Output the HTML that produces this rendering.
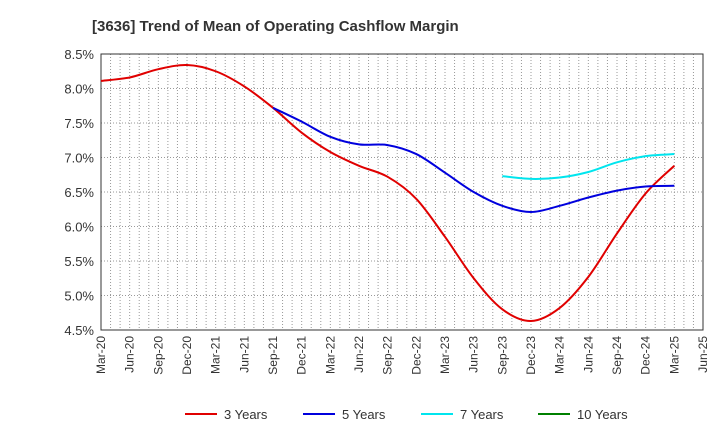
<!DOCTYPE html>
<html><head><meta charset="utf-8"><style>
body{margin:0;background:#fff;font-family:"Liberation Sans",Arial,sans-serif}
svg text{font-family:"Liberation Sans",Arial,sans-serif;fill:#333}
</style></head><body>
<svg id="c" width="720" height="440">
<text x="92" y="31" font-size="15" font-weight="bold" style="fill:#333">[3636]  Trend of Mean of Operating Cashflow Margin</text>
<g id="grid"></g><g id="axes"></g><g id="series"></g><g id="legend"></g>
</svg>
<script>
const xLabels=["Mar-20","Jun-20","Sep-20","Dec-20","Mar-21","Jun-21","Sep-21","Dec-21","Mar-22","Jun-22","Sep-22","Dec-22","Mar-23","Jun-23","Sep-23","Dec-23","Mar-24","Jun-24","Sep-24","Dec-24","Mar-25","Jun-25"];
const yTicks=[4.5,5.0,5.5,6.0,6.5,7.0,7.5,8.0,8.5];
const red=[8.11,8.16,8.28,8.34,8.25,8.03,7.72,7.36,7.08,6.88,6.72,6.40,5.85,5.25,4.80,4.63,4.82,5.27,5.90,6.48,6.88];
const blue=[7.72,7.52,7.30,7.19,7.18,7.05,6.78,6.50,6.30,6.21,6.30,6.42,6.52,6.58,6.59];
const blueStart=6;
const cyan=[6.73,6.69,6.71,6.79,6.93,7.02,7.05];
const cyanStart=14;
const L=101,R=703,T=54,B=330;
const X=i=>L+(R-L)*i/21;
const Y=v=>B-(v-4.5)/4*(B-T);
const NS="http://www.w3.org/2000/svg";
function mk(tag,attrs,parent){const e=document.createElementNS(NS,tag);for(const k in attrs)e.setAttribute(k,attrs[k]);parent.appendChild(e);return e;}
const grid=document.getElementById('grid'),axes=document.getElementById('axes'),ser=document.getElementById('series'),leg=document.getElementById('legend');
for(let m=1;m<63;m++){const x=L+(R-L)*m/63;const g=mk('line',{x1:x,x2:x,y1:T,y2:B,stroke:'#999','stroke-dasharray':'1,2','stroke-width':1},grid);

}
yTicks.forEach(v=>{const y=Y(v);const g=mk('line',{x1:L,x2:R,y1:y,y2:y,stroke:'#999','stroke-dasharray':'1,2','stroke-width':1},grid);


const t=mk('text',{x:L-7,y:y+5,'text-anchor':'end','font-size':13},axes);t.textContent=v.toFixed(1)+'%';

});
const fr=mk('rect',{x:L,y:T,width:R-L,height:B-T,fill:'none',stroke:'#333','stroke-width':1},axes);


xLabels.forEach((s,i)=>{const x=X(i);const t=mk('text',{transform:`translate(${x+4},${B+6}) rotate(-90)`,'text-anchor':'end','font-size':12},axes);t.textContent=s;

});
function path(vals,start){const p=vals.map((v,i)=>[X(start+i),Y(v)]);let d=`M${p[0][0]},${p[0][1]}`;
for(let i=0;i<p.length-1;i++){const p0=p[i-1]||p[i],p1=p[i],p2=p[i+1],p3=p[i+2]||p2;
d+=` C${p1[0]+(p2[0]-p0[0])/6},${p1[1]+(p2[1]-p0[1])/6} ${p2[0]-(p3[0]-p1[0])/6},${p2[1]-(p3[1]-p1[1])/6} ${p2[0]},${p2[1]}`;}return d;}
const sr=mk('path',{d:path(red,0),fill:'none',stroke:'#e00000','stroke-width':2},ser);


const sb=mk('path',{d:path(blue,blueStart),fill:'none',stroke:'#0000dd','stroke-width':2},ser);


const sc=mk('path',{d:path(cyan,cyanStart),fill:'none',stroke:'#00e5ee','stroke-width':2},ser);


[['3 Years','#e00000',185],['5 Years','#0000dd',303],['7 Years','#00e5ee',421],['10 Years','#008000',538]].forEach(([n,c,x])=>{
const g=mk('g',{},leg);


mk('line',{x1:x,x2:x+32,y1:414,y2:414,stroke:c,'stroke-width':2},g);
const t=mk('text',{x:x+39,y:419,'font-size':13},g);t.textContent=n;});
</script>
</body></html>
